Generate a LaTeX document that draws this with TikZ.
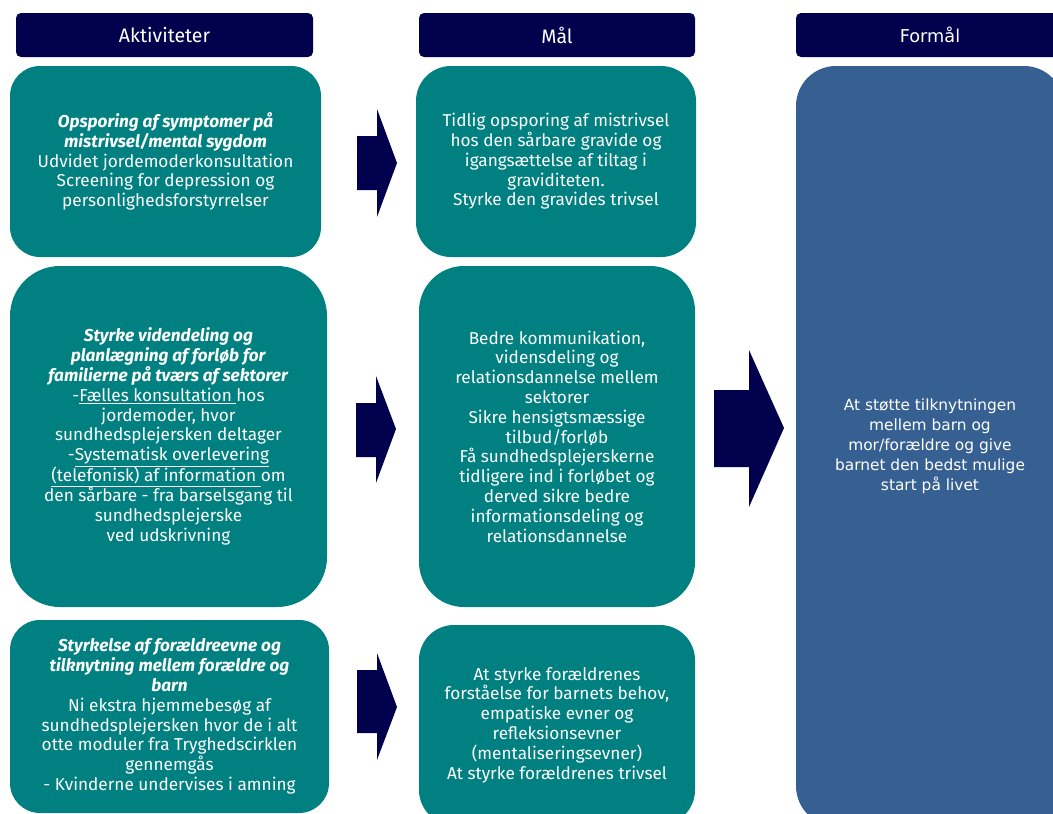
\documentclass[tikz,border=0pt]{standalone}
\usepackage{fontspec}
\setmainfont{Fira Sans}
\newfontfamily\widefont{DejaVu Sans}
\definecolor{navyc}{RGB}{0,0,77}
\definecolor{tealc}{RGB}{0,128,128}
\definecolor{bluec}{RGB}{54,96,146}
\newcommand{\bi}[1]{\textbf{\textit{#1}}}
\newcommand{\myul}[1]{\underline{#1}}
\begin{document}
\begin{tikzpicture}[x=1pt,y=-1pt,
  hdr/.style={fill=navyc, rounded corners=5pt, text=white, inner sep=0pt, minimum height=44pt, font=\fontsize{19.5}{20}\selectfont},
  box/.style={fill=tealc, text=white, align=center, inner sep=0pt, font=\fontsize{17.2}{19.8}\selectfont},
  goal/.style={fill=bluec, text=white, align=center, inner sep=0pt, font=\widefont\fontsize{15.4}{20}\selectfont},
  blockarrow/.style={fill=navyc}
]
\useasboundingbox (0,0) rectangle (1053,814);
\begin{scope}
\clip (0,0) rectangle (1053,814);
% headers
\node[hdr, minimum width=297pt] (h1) at (164.5,35) {Aktiviteter};
\node[hdr, minimum width=276pt] (h2) at (557,35) {Mål};
\node[hdr, minimum width=268pt, font=\widefont\fontsize{17.7}{20}\selectfont] (h3) at (930,35) {Formål};

% activity boxes
\node[box, minimum width=311pt, minimum height=191pt, rounded corners=30pt] (a1) at (165.5,161.5)
 {\bi{Opsporing af symptomer på}\\ \bi{mistrivsel/mental sygdom}\\ Udvidet jordemoderkonsultation\\ Screening for depression og\\ personlighedsforstyrrelser};
\node[box, minimum width=317pt, minimum height=341pt, rounded corners=50pt] (a2) at (168.5,436.5)
 {\bi{Styrke videndeling og}\\ \bi{planlægning af forløb for}\\ \bi{familierne på tværs af sektorer}\\
  -\myul{Fælles konsultation }hos\\ jordemoder, hvor\\ sundhedsplejersken deltager\\
  -\myul{Systematisk overlevering}\\ \myul{(telefonisk) af information }om\\
  den sårbare - fra barselsgang til\\ sundhedsplejerske\\ ved udskrivning};
\node[box, minimum width=319pt, minimum height=193pt, rounded corners=30pt] (a3) at (169.5,716.5)
 {\bi{Styrkelse af forældreevne og}\\ \bi{tilknytning mellem forældre og}\\ \bi{barn}\\
  Ni ekstra hjemmebesøg af\\ sundhedsplejersken hvor de i alt\\ otte moduler fra Tryghedscirklen\\ gennemgås\\ - Kvinderne undervises i amning};

% goal boxes
\node[box, minimum width=280pt, minimum height=191pt, rounded corners=35pt] (m1) at (556,161.5)
 {Tidlig opsporing af mistrivsel\\ hos den sårbare gravide og\\ igangsættelse af tiltag i\\ graviditeten.\\ Styrke den gravides trivsel};
\node[box, minimum width=276pt, minimum height=341pt, rounded corners=45pt] (m2) at (557,436.5)
 {Bedre kommunikation,\\ vidensdeling og\\ relationsdannelse mellem\\ sektorer\\ Sikre hensigtsmæssige\\ tilbud/forløb\\
  Få sundhedsplejerskerne\\ tidligere ind i forløbet og\\ derved sikre bedre\\ informationsdeling og\\ relationsdannelse};
\node[box, minimum width=276pt, minimum height=200pt, rounded corners=35pt] (m3) at (557,725)
 {At styrke forældrenes\\ forståelse for barnets behov,\\ empatiske evner og\\ refleksionsevner\\ (mentaliseringsevner)\\ At styrke forældrenes trivsel};

% purpose box
\node[goal, minimum width=268pt, minimum height=760pt, rounded corners=40pt] (f1) at (930,446)
 {At støtte tilknytningen\\ mellem barn og\\ mor/forældre og give\\ barnet den bedst mulige\\ start på livet};
\end{scope}

% block arrows
\fill[blockarrow] (357,136) -- (377,136) -- (377,109) -- (397,163) -- (377,217) -- (377,190) -- (357,190) -- cycle;
\fill[blockarrow] (356,403) -- (376,403) -- (376,376) -- (396,429) -- (376,483) -- (376,457) -- (356,457) -- cycle;
\fill[blockarrow] (357,670) -- (377,670) -- (377,653) -- (397,707) -- (377,760) -- (377,733) -- (357,733) -- cycle;
\fill[blockarrow] (714,390) -- (749,390) -- (749,350) -- (784,428) -- (749,507) -- (749,467) -- (714,467) -- cycle;
\end{tikzpicture}
\end{document}
